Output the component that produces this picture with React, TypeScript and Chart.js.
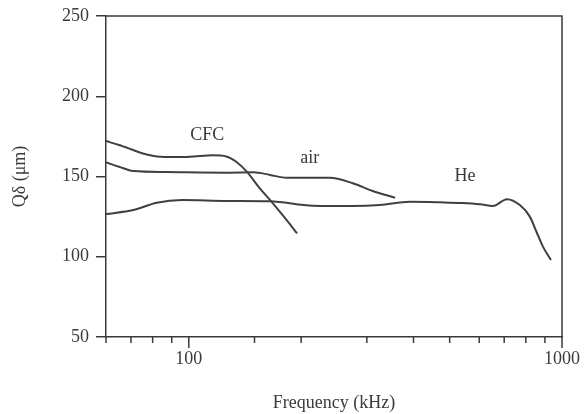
import React, { useEffect, useRef } from 'react';
import { Chart, registerables } from 'chart.js';

Chart.register(...registerables);

// ---- data ----
const cfcFreq = [60, 65, 70, 75, 84, 96, 107, 116, 126, 134, 143, 155, 165, 180, 195];
const cfcValues = [172.1, 169.6, 167, 164.5, 162.3, 162.1, 162.8, 163.2, 162.5, 159.2, 153, 142.6, 135.4, 124.8, 114.6];

const airFreq = [60, 65, 71, 87, 127, 149, 165, 183, 239, 275, 311, 357];
const airValues = [158.8, 156.1, 153.4, 152.8, 152.4, 152.6, 151, 149.2, 149.2, 145.8, 141, 136.8];

const heFreq = [60, 71, 82, 96, 127, 165, 215, 275, 325, 391, 471, 540, 603, 653, 712, 771, 820, 857, 889, 934];
const heValues = [126.6, 129.1, 133.7, 135.4, 134.8, 134.6, 131.8, 131.6, 132.2, 134.2, 133.9, 133.5, 132.7, 131.6, 135.8, 132.2, 125, 114.8, 106.3, 98];

const seriesNames = ['CFC', 'air', 'He'];
const nameFreq = [112, 211, 550];
const nameValue = [176, 161.5, 150.3];

const xLabelTicks = [100, 1000];
const xMin = 60;
const xMax = 1000;
const yMin = 50;
const yMax = 250;
const yStep = 50;

const FONT = '"Liberation Serif", "Times New Roman", serif';
const INK = '#3a3a3a';
const LINE = '#404040';

const toPoints = (f: number[], v: number[]) => f.map((x, i) => ({ x, y: v[i] }));

const framePlugin = {
  id: 'frame',
  afterDraw(chart: any) {
    const { ctx, chartArea: a, scales } = chart;
    const xs = scales.x;
    const ys = scales.y;
    ctx.save();
    ctx.strokeStyle = INK;
    ctx.lineWidth = 1.5;
    ctx.beginPath();
    ctx.moveTo(a.left, a.top);
    ctx.lineTo(a.right, a.top);
    ctx.lineTo(a.right, a.bottom);
    ctx.stroke();
    xs.ticks.forEach((t: any) => {
      const px = xs.getPixelForValue(t.value);
      const major = xLabelTicks.includes(t.value);
      ctx.beginPath();
      ctx.moveTo(px, a.bottom);
      ctx.lineTo(px, a.bottom + (major ? 11 : 6));
      ctx.stroke();
    });
    ctx.font = '18px ' + FONT;
    ctx.fillStyle = INK;
    ctx.textAlign = 'center';
    ctx.textBaseline = 'middle';
    seriesNames.forEach((n, i) => {
      ctx.fillText(n, xs.getPixelForValue(nameFreq[i]), ys.getPixelForValue(nameValue[i]));
    });
    ctx.restore();
  },
};

export default function App() {
  const ref = useRef<HTMLCanvasElement | null>(null);

  useEffect(() => {
    if (!ref.current) return;
    const mk = (label: string, f: number[], v: number[]) => ({
      label,
      data: toPoints(f, v),
      borderColor: LINE,
      borderWidth: 2,
      pointRadius: 0,
      fill: false,
      cubicInterpolationMode: 'monotone' as const,
    });
    const chart = new Chart(ref.current, {
      type: 'line',
      data: {
        datasets: [
          mk(seriesNames[0], cfcFreq, cfcValues),
          mk(seriesNames[1], airFreq, airValues),
          mk(seriesNames[2], heFreq, heValues),
        ],
      },
      options: {
        responsive: false,
        animation: false,
        layout: { padding: { left: 0, top: 16, right: 22, bottom: 0 } },
        plugins: { legend: { display: false }, tooltip: { enabled: false } },
        scales: {
          x: {
            type: 'logarithmic',
            min: xMin,
            max: xMax,
            afterFit: (s: any) => { s.height = 77; s.paddingLeft = 0; s.paddingRight = 0; },
            grid: { drawOnChartArea: false, drawTicks: false },
            border: { display: true, color: INK, width: 1.5 },
            ticks: {
              autoSkip: false,
              maxRotation: 0,
              padding: 11,
              color: INK,
              font: { family: FONT, size: 18 },
              callback: (v: any) => (xLabelTicks.includes(Number(v)) ? String(v) : ''),
            },
            title: {
              display: true,
              text: 'Frequency (kHz)',
              color: INK,
              font: { family: FONT, size: 18 },
              padding: { top: 0, bottom: 0 },
            },
          },
          y: {
            min: yMin,
            max: yMax,
            afterFit: (s: any) => { s.width = 106; s.paddingTop = 0; s.paddingBottom = 0; },
            grid: { drawOnChartArea: false, drawTicks: true, tickLength: 10, color: INK, lineWidth: 1.5 },
            border: { display: true, color: INK, width: 1.5 },
            ticks: {
              stepSize: yStep,
              padding: 7,
              color: INK,
              font: { family: FONT, size: 18 },
            },
            title: {
              display: true,
              text: 'Qδ (μm)',
              color: INK,
              font: { family: FONT, size: 18 },
              padding: { top: 9, bottom: 0 },
            },
          },
        },
      },
      plugins: [framePlugin],
    });
    return () => chart.destroy();
  }, []);

  return (
    <canvas
      ref={ref}
      width={584}
      height={414}
      style={{ position: 'fixed', left: 0, top: 0, width: 584, height: 414, background: '#fff' }}
    />
  );
}
